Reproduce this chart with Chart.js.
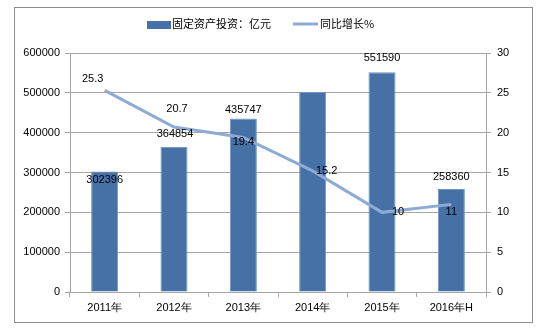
<!DOCTYPE html>
<html>
<head>
<meta charset="utf-8">
<script src="https://cdn.jsdelivr.net/npm/chart.js@4.4.1/dist/chart.umd.min.js"></script>
<style>
  body { margin: 0; background: #fff; }
  #frame { position: absolute; left: 14px; top: 7px; width: 517px; height: 314px; border: 1px solid #8c8c8c; }
  canvas { display: block; }
</style>
</head>
<body>
<div id="frame"><canvas id="chart" width="517" height="314"></canvas></div>
<script>
// 年份、固定资产投资（亿元）、同比增长（%）
const years = ['2011年', '2012年', '2013年', '2014年', '2015年', '2016年H'];
const investment = [302396, 364854, 435747, 502005, 551590, 258360];
const growth = [25.3, 20.7, 19.4, 15.2, 10, 11];
const barLabelShown = [true, true, true, false, true, true];
const leftTicks = [0, 100000, 200000, 300000, 400000, 500000, 600000];
const rightTicks = [0, 5, 10, 15, 20, 25, 30];

const gridColor = '#a6a6a6';
const tickFont = { family: '"Liberation Sans", Arial, sans-serif', size: 11 };

// value labels + legend, drawn on top of the datasets
const overlay = {
    id: 'overlay',
    afterDatasetsDraw(chart, args, opts) {
        const ctx = chart.ctx;
        ctx.save();
        ctx.font = '11px "Liberation Sans", Arial, sans-serif';
        ctx.fillStyle = '#000';
        ctx.textAlign = 'center';
        ctx.textBaseline = 'middle';

        chart.getDatasetMeta(0).data.forEach((bar, i) => {
            if (!barLabelShown[i]) return;
            const [dx, dy] = opts.barOffsets[i];
            ctx.fillText(String(investment[i]), bar.x + dx, bar.y + dy);
        });
        chart.getDatasetMeta(1).data.forEach((pt, i) => {
            const [dx, dy] = opts.lineOffsets[i];
            ctx.fillText(String(growth[i]), pt.x + dx, pt.y + dy);
        });

        // legend
        ctx.textAlign = 'left';
        ctx.font = '11px "Noto Sans CJK SC", sans-serif';
        ctx.fillStyle = '#4671a6';
        ctx.fillRect(132, 13, 24, 8);
        ctx.fillStyle = '#000';
        ctx.fillText(chart.data.datasets[0].label, 157, 16);
        ctx.strokeStyle = '#8eabd6';
        ctx.lineWidth = 3;
        ctx.beginPath();
        ctx.moveTo(278, 16);
        ctx.lineTo(303, 16);
        ctx.stroke();
        ctx.fillText(chart.data.datasets[1].label, 305, 16);
        ctx.restore();
    }
};

new Chart(document.getElementById('chart'), {
    data: {
        labels: years,
        datasets: [
            {
                type: 'bar',
                label: '固定资产投资：亿元',
                data: investment,
                yAxisID: 'y',
                backgroundColor: '#4671a6',
                borderColor: '#6f93c4',
                borderWidth: 1,
                barPercentage: 0.39,
                categoryPercentage: 1,
                order: 1
            },
            {
                type: 'line',
                label: '同比增长%',
                data: growth,
                yAxisID: 'y1',
                borderColor: '#8eabd6',
                borderWidth: 3,
                pointRadius: 0,
                tension: 0,
                order: 0
            }
        ]
    },
    options: {
        responsive: false,
        animation: false,
        layout: { padding: { top: 45, left: 0, right: 0, bottom: 0 } },
        plugins: {
            legend: { display: false },
            tooltip: { enabled: false },
            overlay: {
                barOffsets: [[0, 8], [1, -13], [0, -8], [0, -10], [0, -14], [0, -12]],
                lineOffsets: [[-12, -11], [3, -18], [0, 5], [14, 0], [16, 0], [0, 8]]
            }
        },
        scales: {
            x: {
                afterFit: s => { s.height = 30; },
                grid: { drawOnChartArea: false, color: gridColor, tickLength: 5 },
                border: { color: gridColor },
                ticks: { color: '#000', font: tickFont, padding: 4 }
            },
            y: {
                position: 'left',
                min: 0,
                max: 600000,
                afterFit: s => { s.width = 55; },
                afterBuildTicks: s => { s.ticks = leftTicks.map(v => ({ value: v })); },
                grid: { color: gridColor, tickLength: 5 },
                border: { color: gridColor },
                ticks: { color: '#000', font: tickFont, padding: 5, callback: v => String(v) }
            },
            y1: {
                position: 'right',
                min: 0,
                max: 30,
                afterFit: s => { s.width = 46; },
                afterBuildTicks: s => { s.ticks = rightTicks.map(v => ({ value: v })); },
                grid: { drawOnChartArea: false, color: gridColor, tickLength: 5 },
                border: { color: gridColor },
                ticks: { color: '#000', font: tickFont, padding: 6, callback: v => String(v) }
            }
        }
    },
    plugins: [overlay]
});
</script>
</body>
</html>
